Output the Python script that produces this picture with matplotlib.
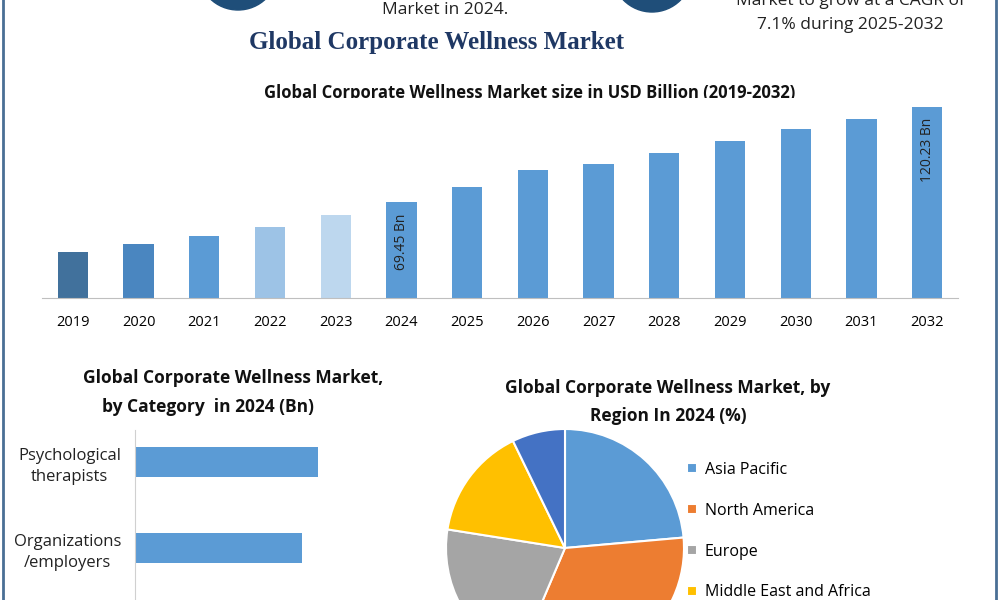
import matplotlib
matplotlib.use('Agg')
import matplotlib.pyplot as plt
from matplotlib.patches import Circle

plt.rcParams['font.family'] = ['Open Sans', 'DejaVu Sans']

# Market size by year (USD Bn)
years = ['2019', '2020', '2021', '2022', '2023', '2024', '2025', '2026',
         '2027', '2028', '2029', '2030', '2031', '2032']
sizes = [29.0, 34.0, 39.0, 44.7, 52.2, 60.4, 69.9, 80.6, 84.4, 91.3,
         98.8, 106.4, 112.7, 120.23]
bar_colors = ['#41719c', '#4a86c0', '#5b9bd5', '#9dc3e6', '#bdd7ee'] + ['#5b9bd5'] * 9
bar_notes = {5: '69.45 Bn', 13: '120.23 Bn'}

categories = ['Psychological\ntherapists', 'Organizations\n/employers']
cat_values = [18.3, 16.7]

regions = ['Asia Pacific', 'North America', 'Europe', 'Middle East and Africa', 'South America']
shares = [23.6, 32.8, 21.1, 15.3, 7.2]
pie_colors = ['#5b9bd5', '#ed7d31', '#a5a5a5', '#ffc000', '#4472c4']

W, H = 1000, 600
fig = plt.figure(figsize=(10, 6), dpi=100)

def rect(x0, y0, x1, y1):
    return [x0 / W, 1 - y1 / H, (x1 - x0) / W, (y1 - y0) / H]

# decoration layer in pixel coords
deco = fig.add_axes([0, 0, 1, 1], zorder=-1)
deco.set_xlim(0, W)
deco.set_ylim(H, 0)
deco.axis('off')
deco.add_patch(Circle((238, -30), 40, color='#1f4e79'))
deco.add_patch(Circle((652, -28), 40, color='#1f4e79'))
deco.plot([3, 3], [0, H], color='#4a6f95', lw=2)
deco.plot([996, 996], [0, H], color='#4a6f95', lw=2)
deco.text(445, 10, 'Market in 2024.', ha='center', va='center', fontsize=12.5, color='#222')
deco.text(850, 1, 'Market to grow at a CAGR of', ha='center', va='center', fontsize=12.5, color='#222')
deco.text(850, 25, '7.1% during 2025-2032', ha='center', va='center', fontsize=12.5, color='#222')
deco.text(437, 43, 'Global Corporate Wellness Market', ha='center', va='center', fontsize=18,
          fontweight='bold', color='#1f3864', family='Liberation Serif')
deco.text(530, 93, 'Global Corporate Wellness Market size in USD Billion (2019-2032)',
          ha='center', va='center', fontsize=12, fontweight='bold', color='#111')
deco.text(233, 378, 'Global Corporate Wellness Market,', ha='center', va='center',
          fontsize=12.5, fontweight='bold', color='#111')
deco.text(208, 407, 'by Category  in 2024 (Bn)', ha='center', va='center',
          fontsize=12.5, fontweight='bold', color='#111')
deco.text(668, 388, 'Global Corporate Wellness Market, by', ha='center', va='center',
          fontsize=12.5, fontweight='bold', color='#111')
deco.text(668, 416, 'Region In 2024 (%)', ha='center', va='center',
          fontsize=12.5, fontweight='bold', color='#111')

# main bar chart
ax = fig.add_axes(rect(42, 98, 958, 298))
x = range(len(years))
ax.bar(x, sizes, width=0.46, color=bar_colors)
for i, note in bar_notes.items():
    ax.text(i, sizes[i] - 7, note, rotation=90, ha='center', va='top', fontsize=10, color='#222')
ax.set_xlim(-0.47, 13.47)
ax.set_ylim(0, 125.9)
ax.set_xticks(list(x))
ax.set_xticklabels(years, fontsize=10.5)
ax.tick_params(axis='x', length=0, pad=12)
ax.set_yticks([])
for s in ['top', 'right', 'left']:
    ax.spines[s].set_visible(False)
ax.spines['bottom'].set_color('#bfbfbf')

# category horizontal bars
hx = fig.add_axes(rect(135, 430, 435, 600))
hx.barh(range(len(categories)), cat_values, height=0.35, color='#5b9bd5')
hx.set_xlim(0, 30)
hx.set_ylim(1 + 52 / 86, -32 / 86)
hx.set_yticks(range(len(categories)))
hx.set_yticklabels(categories, fontsize=12, color='#222', multialignment='center',
                   linespacing=1.4)
hx.tick_params(axis='y', length=0, pad=10)
hx.set_xticks([])
for s in ['top', 'right', 'bottom']:
    hx.spines[s].set_visible(False)
hx.spines['left'].set_color('#d0d0d0')

# region pie
px = fig.add_axes(rect(446, 429, 684, 667))
wedges, _ = px.pie(shares, colors=pie_colors, startangle=90, counterclock=False,
                   radius=1, wedgeprops=dict(edgecolor='white', linewidth=1.5))
px.set_xlim(-1, 1)
px.set_ylim(-1, 1)
px.set_aspect('equal')
fig.legend(wedges, regions, loc='upper left', bbox_to_anchor=(0.687, 0.23),
           bbox_transform=fig.transFigure, frameon=False, fontsize=11.5,
           handlelength=0.6, handleheight=0.6, handletextpad=0.5, labelspacing=1.55,
           borderaxespad=0, borderpad=0)

fig.savefig('out.png', dpi=100)
